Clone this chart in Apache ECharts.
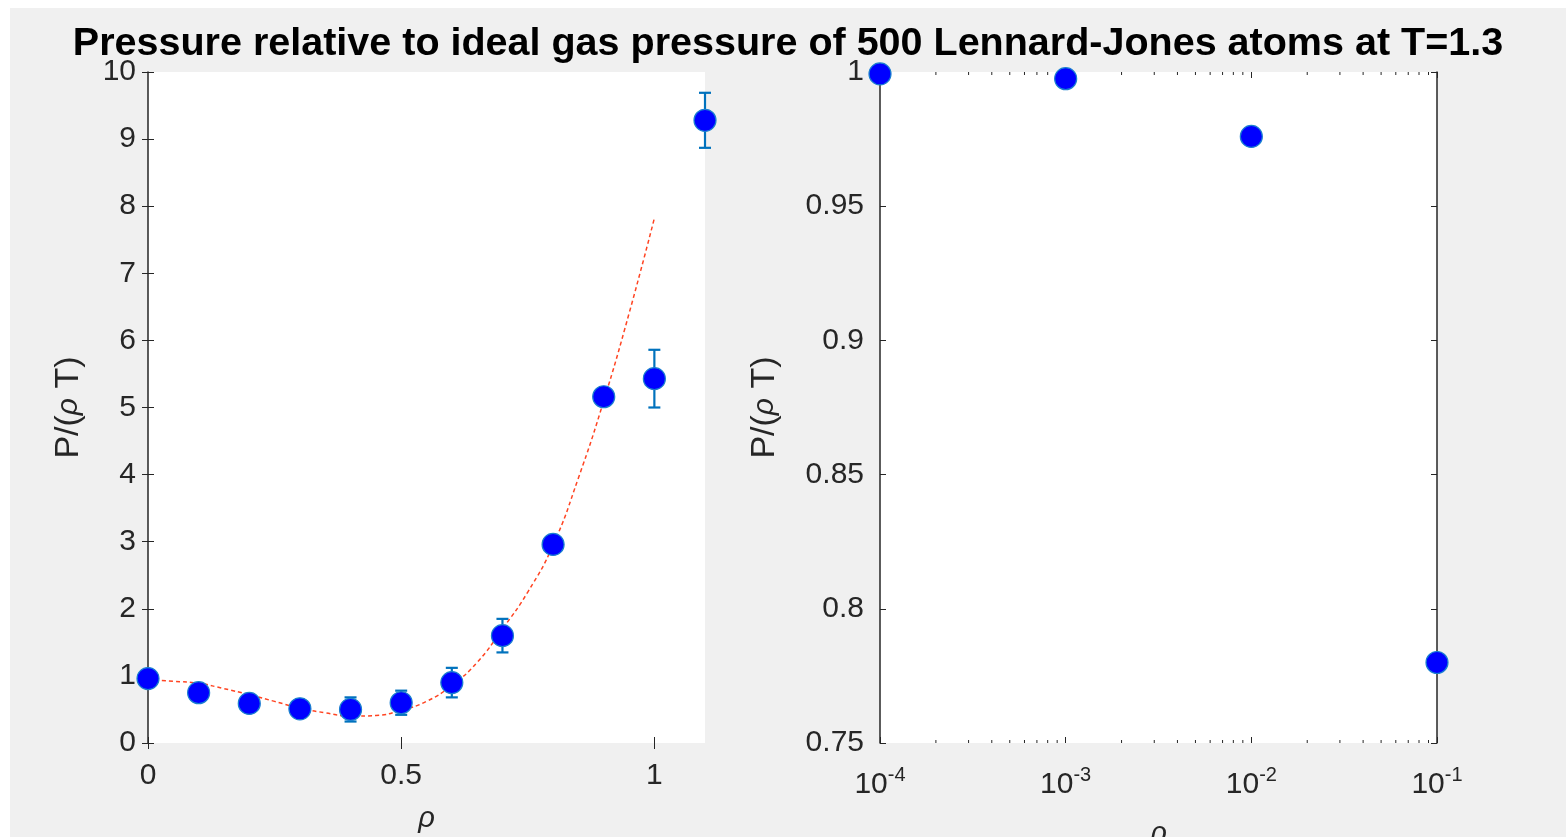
<!DOCTYPE html>
<html>
<head>
<meta charset="utf-8">
<script src="https://cdn.jsdelivr.net/npm/echarts@6/dist/echarts.min.js"></script>
<style>
html,body{margin:0;padding:0;background:#ffffff;width:1566px;height:837px;overflow:hidden;}
#chart{position:absolute;left:10px;top:8px;width:1556px;height:829px;background:#f0f0f0;}
</style>
</head>
<body>
<div id="chart"></div>
<script>
// ---------- data ----------
const titleText = 'Pressure relative to ideal gas pressure of 500 Lennard-Jones atoms at T=1.3';
// left panel (linear density)
const rhoLin = [0, 0.1, 0.2, 0.3, 0.4, 0.5, 0.6, 0.7, 0.8, 0.9, 1.0, 1.1];
const pLin   = [0.96, 0.75, 0.59, 0.51, 0.50, 0.60, 0.90, 1.60, 2.96, 5.16, 5.43, 9.28];
const errLin = [0.05, 0.06, 0.07, 0.10, 0.18, 0.18, 0.22, 0.25, 0.06, 0.06, 0.43, 0.41];
// fitted curve
const fitRho = [0, 0.05, 0.1, 0.15, 0.2, 0.25, 0.3, 0.35, 0.4, 0.45, 0.5, 0.55, 0.6, 0.65, 0.7, 0.75, 0.8, 0.85, 0.9, 0.95, 1.0];
const fitP   = [0.94, 0.92, 0.89, 0.81, 0.72, 0.62, 0.52, 0.45, 0.40, 0.41, 0.49, 0.62, 0.86, 1.20, 1.70, 2.25, 2.95, 3.95, 5.10, 6.40, 7.82];
// right panel (log density)
const rhoLog = [1e-4, 1e-3, 1e-2, 1e-1];
const pLog   = [0.9993, 0.9975, 0.976, 0.780];
// tick values
const xTicksLeft  = [0, 0.5, 1];
const yTicksLeft  = [0, 1, 2, 3, 4, 5, 6, 7, 8, 9, 10];
const yTicksRight = [0.75, 0.8, 0.85, 0.9, 0.95, 1];
const xMinorRight = [2e-4,3e-4,4e-4,5e-4,6e-4,7e-4,8e-4,9e-4,
                     2e-3,3e-3,4e-3,5e-3,6e-3,7e-3,8e-3,9e-3,
                     2e-2,3e-2,4e-2,5e-2,6e-2,7e-2,8e-2,9e-2];

// ---------- chart ----------
const FONT = 'Liberation Sans, Arial, Helvetica, sans-serif';
const AX = '#262626';
const TICKFS = 30;
const chart = echarts.init(document.getElementById('chart'), null, {renderer: 'canvas'});

const nameRich = {
  n: {fontSize: 34, fontFamily: FONT, color: AX},
  i: {fontSize: 30, fontFamily: FONT, fontStyle: 'italic', color: AX}
};
const yName = '{n|P/(}{i|ρ}{n| T)}';

function lab(extra) {
  return Object.assign({fontSize: TICKFS, fontFamily: FONT, color: AX}, extra || {});
}

const errData = rhoLin.map((r, i) => [r, pLin[i] - errLin[i], pLin[i] + errLin[i]]);

const option = {
  animation: false,
  title: {
    text: titleText, left: 'center', top: 11,
    textStyle: {fontSize: 39.5, fontWeight: 'bold', fontFamily: FONT, color: '#000'}
  },
  grid: [
    {left: 138, top: 64, width: 557, height: 671, show: true, backgroundColor: '#ffffff', borderWidth: 0, outerBoundsMode: 'none', containLabel: false},
    {left: 870, top: 64, width: 557, height: 671, show: true, backgroundColor: '#ffffff', borderWidth: 0, outerBoundsMode: 'none', containLabel: false}
  ],
  xAxis: [
    {gridIndex: 0, type: 'value', min: 0, max: 1.1, position: 'bottom',
     axisLine: {show: false}, splitLine: {show: false},
     axisTick: {show: true, inside: true, length: 6, lineStyle: {color: AX}, customValues: xTicksLeft},
     axisLabel: lab({margin: 18, customValues: xTicksLeft}),
     name: 'ρ', nameLocation: 'middle', nameGap: 61,
     nameTextStyle: {fontSize: 29, fontStyle: 'italic', fontFamily: FONT, color: AX}},
    {gridIndex: 0, type: 'value', min: 0, max: 1.1, position: 'top',
     axisLine: {show: false}, splitLine: {show: false}, axisLabel: {show: false},
     axisTick: {show: true, inside: true, length: 6, lineStyle: {color: AX}, customValues: xTicksLeft}},
    {gridIndex: 1, type: 'log', logBase: 10, min: 1e-4, max: 1e-1, position: 'bottom',
     axisLine: {show: false}, splitLine: {show: false},
     axisTick: {show: true, inside: true, length: 6, lineStyle: {color: AX}},
     axisLabel: {
       margin: 16,
       formatter: function (v) { return '{b|10}{s|' + Math.round(Math.log10(v)) + '}'; },
       rich: {
         b: {fontSize: TICKFS, fontFamily: FONT, color: AX, lineHeight: 40, padding: [12, 0, 0, 0]},
         s: {fontSize: 20, fontFamily: FONT, color: AX, lineHeight: 40, padding: [0, 0, 8, 0]}
       }
     },
     name: 'ρ', nameLocation: 'middle', nameGap: 76,
     nameTextStyle: {fontSize: 29, fontStyle: 'italic', fontFamily: FONT, color: AX}},
    {gridIndex: 1, type: 'log', logBase: 10, min: 1e-4, max: 1e-1, position: 'top',
     axisLine: {show: false}, splitLine: {show: false}, axisLabel: {show: false},
     axisTick: {show: true, inside: true, length: 6, lineStyle: {color: AX}}}
  ],
  yAxis: [
    {gridIndex: 0, type: 'value', min: 0, max: 10, interval: 1, position: 'left',
     axisLine: {show: true, lineStyle: {color: AX, width: 1.5}}, splitLine: {show: false},
     axisTick: {show: true, inside: true, length: 6, lineStyle: {color: AX}, customValues: yTicksLeft},
     axisLabel: lab({margin: 12, customValues: yTicksLeft}),
     name: yName, nameLocation: 'middle', nameGap: 62, nameTextStyle: {rich: nameRich}},
    {gridIndex: 0, type: 'value', min: 0, max: 10, interval: 1, position: 'right',
     axisLine: {show: false}, splitLine: {show: false}, axisLabel: {show: false},
     axisTick: {show: true, inside: true, length: 6, lineStyle: {color: AX}, customValues: yTicksLeft}},
    {gridIndex: 1, type: 'value', min: 0.75, max: 1, interval: 0.05, position: 'left',
     axisLine: {show: true, lineStyle: {color: AX, width: 1.5}}, splitLine: {show: false},
     axisTick: {show: true, inside: true, length: 6, lineStyle: {color: AX}, customValues: yTicksRight},
     axisLabel: lab({margin: 16, customValues: yTicksRight}),
     name: yName, nameLocation: 'middle', nameGap: 98, nameTextStyle: {rich: nameRich}},
    {gridIndex: 1, type: 'value', min: 0.75, max: 1, interval: 0.05, position: 'right',
     axisLine: {show: true, lineStyle: {color: AX, width: 1.5}}, splitLine: {show: false}, axisLabel: {show: false},
     axisTick: {show: true, inside: true, length: 6, lineStyle: {color: AX}, customValues: yTicksRight}}
  ],
  series: [
    {
      type: 'line', xAxisIndex: 0, yAxisIndex: 0, smooth: true, showSymbol: false, symbol: 'none',
      data: fitRho.map((r, i) => [r, fitP[i]]),
      lineStyle: {color: '#ff4422', width: 1.5, type: [4, 3]}, z: 3
    },
    {
      type: 'custom', xAxisIndex: 0, yAxisIndex: 0, clip: false, z: 2,
      data: errData,
      renderItem: function (params, api) {
        const lo = api.coord([api.value(0), api.value(1)]);
        const hi = api.coord([api.value(0), api.value(2)]);
        const c = 6;
        const st = {stroke: '#0072bd', lineWidth: 2.2};
        return {type: 'group', children: [
          {type: 'line', shape: {x1: lo[0], y1: lo[1], x2: hi[0], y2: hi[1]}, style: st},
          {type: 'line', shape: {x1: lo[0] - c, y1: lo[1], x2: lo[0] + c, y2: lo[1]}, style: st},
          {type: 'line', shape: {x1: hi[0] - c, y1: hi[1], x2: hi[0] + c, y2: hi[1]}, style: st}
        ]};
      }
    },
    {
      type: 'scatter', xAxisIndex: 0, yAxisIndex: 0, clip: false, z: 4,
      data: rhoLin.map((r, i) => [r, pLin[i]]),
      symbol: 'circle', symbolSize: 22,
      itemStyle: {color: '#0000ff', borderColor: '#1a7fd0', borderWidth: 1.2, opacity: 1}
    },
    {
      type: 'custom', xAxisIndex: 2, yAxisIndex: 2, clip: false, z: 2,
      data: xMinorRight.map(v => [v]),
      encode: {x: 0},
      renderItem: function (params, api) {
        const cs = params.coordSys;
        const x = api.coord([api.value(0), 0.75])[0];
        const st = {stroke: AX, lineWidth: 1};
        return {type: 'group', children: [
          {type: 'line', shape: {x1: x, y1: cs.y + cs.height, x2: x, y2: cs.y + cs.height - 3}, style: st},
          {type: 'line', shape: {x1: x, y1: cs.y, x2: x, y2: cs.y + 3}, style: st}
        ]};
      }
    },
    {
      type: 'scatter', xAxisIndex: 2, yAxisIndex: 2, clip: false, z: 4,
      data: rhoLog.map((r, i) => [r, pLog[i]]),
      symbol: 'circle', symbolSize: 22,
      itemStyle: {color: '#0000ff', borderColor: '#1a7fd0', borderWidth: 1.2, opacity: 1}
    }
  ]
};
chart.setOption(option);
</script>
</body>
</html>
